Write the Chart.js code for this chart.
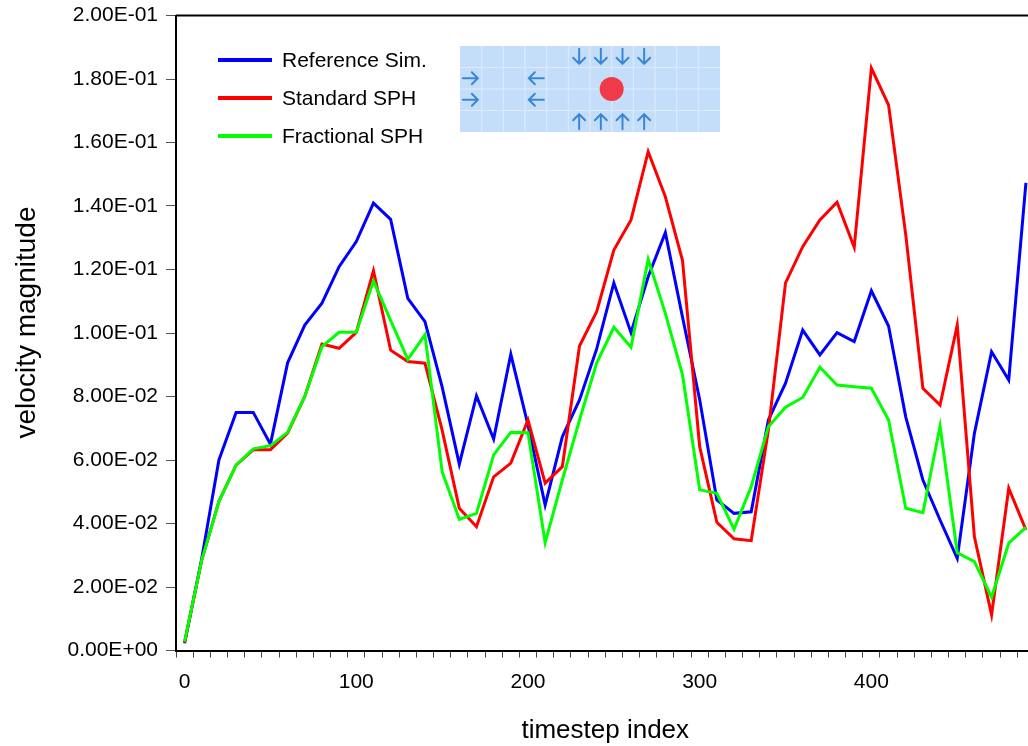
<!DOCTYPE html>
<html>
<head>
<meta charset="utf-8">
<script src="https://cdn.jsdelivr.net/npm/chart.js@4.4.1/dist/chart.umd.min.js"></script>
<style>
  html, body { margin: 0; padding: 0; overflow: hidden; background: #fff; }
  #wrap { position: absolute; left: 0; top: 0; width: 1040px; height: 746px; }
</style>
</head>
<body>
<div id="wrap"><canvas id="myChart" width="1040" height="746"></canvas></div>
<script>
const timesteps = [0, 10, 20, 30, 40, 50, 60, 70, 80, 90, 100, 110, 120, 130, 140, 150, 160, 170, 180, 190,
  200, 210, 220, 230, 240, 250, 260, 270, 280, 290, 300, 310, 320, 330, 340, 350, 360, 370, 380, 390,
  400, 410, 420, 430, 440, 450, 460, 470, 480, 490];

const referenceSim = [0.0023, 0.029, 0.060, 0.075, 0.075, 0.065, 0.0906, 0.1025, 0.1094, 0.1209,
  0.1288, 0.1409, 0.1358, 0.1109, 0.1036, 0.083, 0.0587, 0.0802, 0.0666, 0.0933,
  0.071, 0.0458, 0.0673, 0.0789, 0.095, 0.1158, 0.1001, 0.1177, 0.1316, 0.105,
  0.079, 0.0474, 0.0432, 0.0437, 0.0726, 0.0842, 0.1009, 0.0931, 0.1001, 0.0973,
  0.1133, 0.1022, 0.0736, 0.0537, 0.0411, 0.029, 0.0684, 0.0941, 0.0852, 0.1473];

const standardSph = [0.0025, 0.0285, 0.047, 0.0584, 0.0632, 0.0632, 0.0685, 0.080, 0.0965, 0.0952,
  0.1002, 0.1196, 0.0946, 0.091, 0.0905, 0.0694, 0.0448, 0.039, 0.0547, 0.059,
  0.0726, 0.0527, 0.0579, 0.0959, 0.1067, 0.1261, 0.1356, 0.1571, 0.1429, 0.1228,
  0.0642, 0.0404, 0.0352, 0.0346, 0.0694, 0.1158, 0.1272, 0.1356, 0.1412, 0.127,
  0.1834, 0.1718, 0.131, 0.0826, 0.0773, 0.1025, 0.0358, 0.0112, 0.0511, 0.038];

const fractionalSph = [0.0028, 0.0285, 0.0469, 0.0584, 0.0635, 0.0645, 0.0687, 0.080, 0.0957, 0.1002,
  0.1002, 0.1164, 0.104, 0.0917, 0.0994, 0.0563, 0.0413, 0.0432, 0.0616, 0.0687,
  0.0686, 0.034, 0.0537, 0.0726, 0.0905, 0.1018, 0.0955, 0.1232, 0.1062, 0.0868,
  0.0506, 0.0495, 0.0382, 0.0516, 0.0705, 0.0766, 0.0797, 0.0892, 0.0836, 0.0831,
  0.0826, 0.0726, 0.0448, 0.0434, 0.0707, 0.0308, 0.028, 0.0168, 0.0338, 0.0388];

const yTitle = 'velocity magnitude';

Chart.defaults.font.family = '"Liberation Sans", Arial, sans-serif';
Chart.defaults.color = '#000';

// 2.00E-01 style labels
function sciLabel(v) {
  const parts = Number(v).toExponential(2).split('e');
  const exp = parseInt(parts[1], 10);
  return parts[0] + 'E' + (exp < 0 ? '-' : '+') + String(Math.abs(exp)).padStart(2, '0');
}

// top border of the plot frame + y axis title (sits a bit above centre in the original)
const framePlugin = {
  id: 'frame',
  afterDraw(chart) {
    const {ctx, chartArea} = chart;
    ctx.save();
    ctx.strokeStyle = '#000';
    ctx.lineWidth = 2;
    ctx.beginPath();
    ctx.moveTo(chartArea.left, chartArea.top);
    ctx.lineTo(chartArea.right, chartArea.top);
    ctx.stroke();

    ctx.translate(27, chartArea.top + 307);
    ctx.rotate(-Math.PI / 2);
    ctx.font = '28px "Liberation Sans", Arial, sans-serif';
    ctx.fillStyle = '#000';
    ctx.textAlign = 'center';
    ctx.textBaseline = 'middle';
    ctx.fillText(yTitle, 0, 0);
    ctx.restore();
  }
};

// legend drawn inside the plot, top left
const insideLegend = {
  id: 'insideLegend',
  afterDatasetsDraw(chart) {
    const {ctx, chartArea} = chart;
    const x0 = chartArea.left + 42;
    ctx.save();
    ctx.font = '21px "Liberation Sans", Arial, sans-serif';
    ctx.textBaseline = 'middle';
    chart.data.datasets.forEach((ds, i) => {
      const y = chartArea.top + 44.5 + i * 38;
      ctx.strokeStyle = ds.borderColor;
      ctx.lineWidth = 4;
      ctx.beginPath();
      ctx.moveTo(x0, y);
      ctx.lineTo(x0 + 54, y);
      ctx.stroke();
      ctx.fillStyle = '#000';
      ctx.fillText(ds.label, x0 + 64, y + 1);
    });
    ctx.restore();
  }
};

// small sketch of the setup: grid with arrows and a red particle
function arrow(ctx, cx, cy, dir) {
  ctx.save();
  ctx.translate(cx, cy);
  ctx.rotate(dir);
  ctx.beginPath();
  ctx.moveTo(0, -8);
  ctx.lineTo(0, 7);
  ctx.moveTo(-6, 1);
  ctx.lineTo(0, 7);
  ctx.lineTo(6, 1);
  ctx.stroke();
  ctx.restore();
}

const insetPlugin = {
  id: 'inset',
  afterDatasetsDraw(chart) {
    const {ctx, chartArea} = chart;
    const left = chartArea.left + 284, top = chartArea.top + 30.5;
    const cols = 12, rows = 4, cw = 260 / cols, rh = 86 / rows;
    ctx.save();
    ctx.fillStyle = '#c4defa';
    ctx.fillRect(left, top, 260, 86);
    ctx.strokeStyle = '#deebfb';
    ctx.lineWidth = 1;
    ctx.beginPath();
    for (let c = 1; c < cols; c++) {
      ctx.moveTo(left + c * cw, top);
      ctx.lineTo(left + c * cw, top + 86);
    }
    for (let r = 1; r < rows; r++) {
      ctx.moveTo(left, top + r * rh);
      ctx.lineTo(left + 260, top + r * rh);
    }
    ctx.stroke();

    ctx.strokeStyle = '#3a86d6';
    ctx.lineWidth = 2;
    ctx.lineCap = 'round';
    for (let c = 5; c <= 8; c++) {
      arrow(ctx, left + (c + 0.5) * cw, top + 0.5 * rh, 0);
      arrow(ctx, left + (c + 0.5) * cw, top + 3.5 * rh, Math.PI);
    }
    for (let r = 1; r <= 2; r++) {
      arrow(ctx, left + 0.5 * cw, top + (r + 0.5) * rh, -Math.PI / 2);
      arrow(ctx, left + 3.5 * cw, top + (r + 0.5) * rh, Math.PI / 2);
    }

    ctx.fillStyle = '#f03a48';
    ctx.beginPath();
    ctx.arc(left + 7 * cw, top + 2 * rh, 12, 0, Math.PI * 2);
    ctx.fill();
    ctx.restore();
  }
};

const ctx = document.getElementById('myChart').getContext('2d');
const myChart = new Chart(ctx, {
  type: 'line',
  data: {
    labels: timesteps,
    datasets: [
      { label: 'Reference Sim.', data: referenceSim, borderColor: '#0000ff', order: 2 },
      { label: 'Standard SPH', data: standardSph, borderColor: '#ff0000', order: 1 },
      { label: 'Fractional SPH', data: fractionalSph, borderColor: '#00ff00', order: 0 }
    ]
  },
  options: {
    responsive: false,
    animation: false,
    devicePixelRatio: 1,
    layout: { padding: { left: 0, top: 15.5, right: 5.5, bottom: 0 } },
    elements: {
      line: { borderWidth: 3, tension: 0, borderJoinStyle: 'miter' },
      point: { radius: 0 }
    },
    plugins: {
      legend: { display: false },
      tooltip: { enabled: false }
    },
    scales: {
      x: {
        type: 'category',
        offset: true,
        afterFit(axis) {
          axis.height = 95.5;
          axis.paddingLeft = 0;
          axis.paddingRight = 0;
        },
        grid: {
          offset: true,
          drawOnChartArea: false,
          drawTicks: true,
          tickLength: 7,
          tickColor: '#444',
          tickWidth: 1
        },
        border: { color: '#000', width: 2 },
        ticks: {
          autoSkip: false,
          maxRotation: 0,
          padding: 12,
          font: { size: 21 },
          callback: (val, i) => (i % 10 === 0 ? String(timesteps[i]) : '')
        },
        title: {
          display: true,
          text: 'timestep index',
          font: { size: 26 },
          padding: { top: 0, bottom: 0 }
        }
      },
      y: {
        min: 0,
        max: 0.2,
        afterFit(axis) {
          axis.width = 176;
          axis.paddingTop = 0;
          axis.paddingBottom = 0;
        },
        grid: {
          drawOnChartArea: false,
          drawTicks: true,
          tickLength: 10,
          tickColor: '#555',
          tickWidth: 1
        },
        border: { color: '#000', width: 2 },
        ticks: {
          stepSize: 0.02,
          padding: 8,
          font: { size: 21 },
          callback: v => sciLabel(v)
        }
      }
    }
  },
  plugins: [framePlugin, insideLegend, insetPlugin]
});
</script>
</body>
</html>
